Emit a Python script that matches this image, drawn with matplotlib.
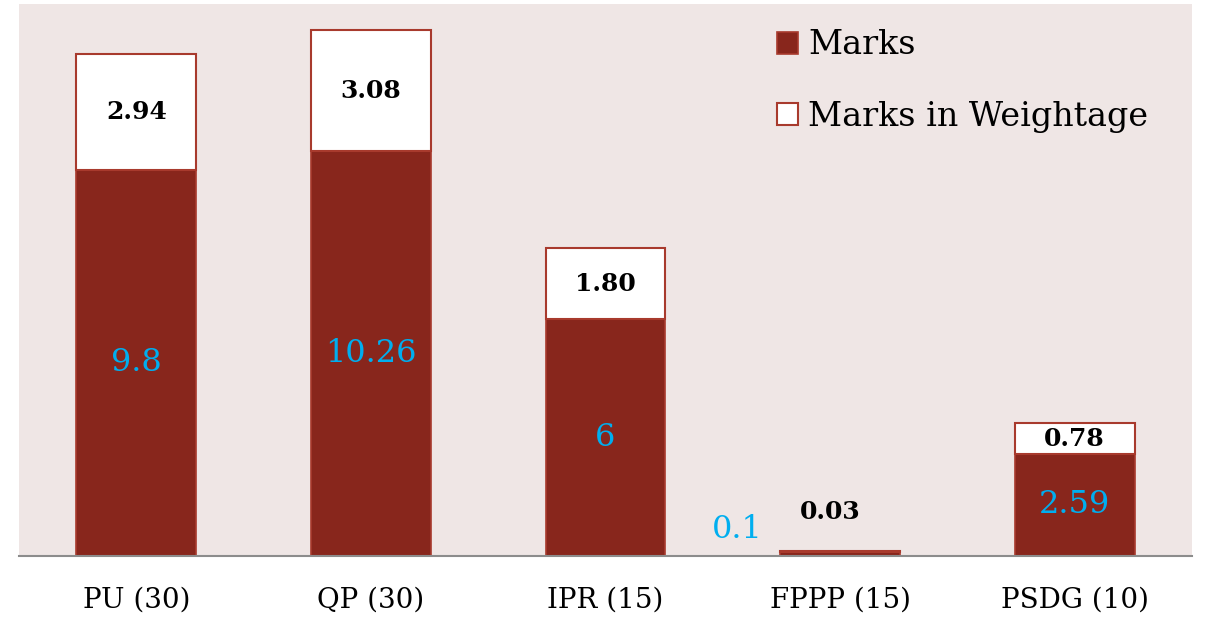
import matplotlib.pyplot as plt
import numpy as np

categories = ['PU (30)', 'QP (30)', 'IPR (15)', 'FPPP (15)', 'PSDG (10)']
marks = [9.8, 10.26, 6, 0.1, 2.59]
weightage = [2.94, 3.08, 1.80, 0.03, 0.78]
marks_labels = ['9.8', '10.26', '6', '0.1', '2.59']
weight_labels = ['2.94', '3.08', '1.80', '0.03', '0.78']

plt.rcParams['font.family'] = ['DejaVu Serif']

fig = plt.figure(figsize=(12.07, 6.3), dpi=100)
ax = fig.add_axes([19 / 1207, 74 / 630, 1173 / 1207, 552 / 630])
ax.set_facecolor('#EFE6E5')

x = np.arange(len(categories))
dark = '#88261C'
edge = '#A83A2D'
ax.bar(x, marks, width=0.51, color=dark, edgecolor=edge, linewidth=1.2, label='Marks')
ax.bar(x, weightage, width=0.51, bottom=marks, color='white', edgecolor=edge,
       linewidth=1.5, label='Marks in Weightage')

for i in range(len(categories)):
    if marks[i] < 1:
        # tiny bar: labels moved outside
        ax.text(x[i] - 0.44, 0.66, marks_labels[i], color='#00AEEF', fontsize=23,
                ha='center', va='center')
        ax.text(x[i] - 0.04, 1.11, weight_labels[i], color='black', fontsize=18,
                fontweight='bold', ha='center', va='center')
    else:
        ax.text(x[i], marks[i] / 2, marks_labels[i], color='#00AEEF', fontsize=23,
                ha='center', va='center')
        ax.text(x[i], marks[i] + weightage[i] / 2, weight_labels[i], color='black',
                fontsize=18, fontweight='bold', ha='center', va='center')

ax.set_xlim(-0.5, 4.5)
ax.set_ylim(0, 14)
ax.set_xticks(x)
ax.set_xticklabels(categories, fontsize=20)
ax.tick_params(axis='x', length=0, pad=22)
ax.set_yticks([])
for s in ['top', 'right', 'left']:
    ax.spines[s].set_visible(False)
ax.spines['bottom'].set_color('#8C8C8C')
ax.spines['bottom'].set_linewidth(1.5)

ax.legend(loc='upper left', bbox_to_anchor=(0.632, 0.984), frameon=False, fontsize=24,
          borderpad=0, handlelength=0.63, handleheight=0.63, handletextpad=0.3,
          labelspacing=1.18)

fig.savefig('out.png', dpi=100)
